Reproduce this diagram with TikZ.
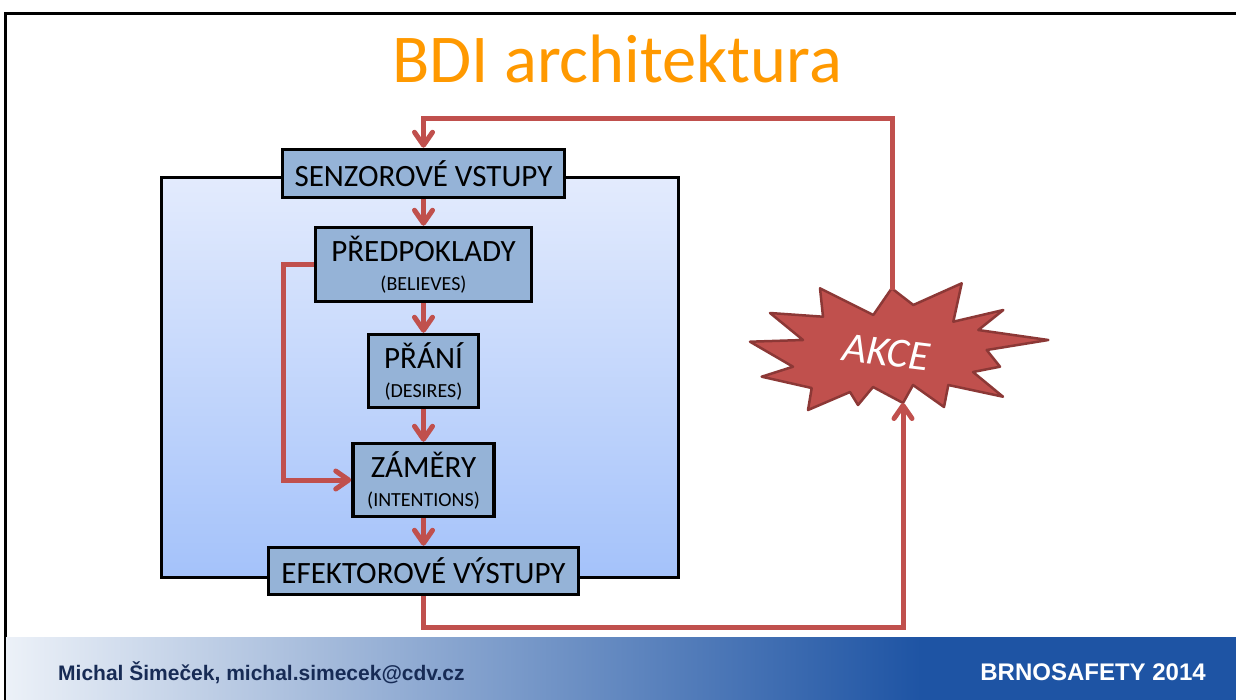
\documentclass[tikz,border=0pt]{standalone}
\usepackage{fontspec}
\setmainfont{Carlito}
\newfontfamily\footfont{Liberation Sans}
\usepackage{xcolor}
\usepackage{tikz}
\usetikzlibrary{arrows.meta,positioning,calc}
\definecolor{titleorange}{RGB}{255,153,0}
\definecolor{stagefill}{RGB}{149,179,215}
\definecolor{flowred}{RGB}{192,80,77}
\definecolor{burstedge}{RGB}{140,56,54}
\definecolor{coretop}{RGB}{227,235,253}
\definecolor{corebottom}{RGB}{164,194,250}
\definecolor{footlight}{RGB}{236,241,248}
\definecolor{footdark}{RGB}{30,84,164}
\definecolor{footnavy}{RGB}{23,43,85}
\tikzset{
  stage/.style={draw=black, line width=3.5pt, fill=stagefill, inner sep=0pt,
    align=center, font=\fontsize{31}{29}\selectfont},
  flow/.style={draw=flowred, line width=5pt,
    -{Straight Barb[length=13pt,width=18pt,round]}},
}
\newcommand{\subtext}[1]{{\fontsize{20}{29}\selectfont #1}}

\begin{document}
\begin{tikzpicture}[x=1pt,y=-1pt]
            \useasboundingbox (0,0) rectangle (1236,699);

            % Slide frame and footer
            \draw[line width=3pt] (5,700) -- (5,13) -- (1237,13);
            \shade[left color=footlight, right color=footdark] (6,637) rectangle (921,700);
            \fill[footdark] (920,637) rectangle (1237,700);
            \node[anchor=base west, inner sep=0pt, text=footnavy,
                font=\footfont\fontsize{21}{24}\selectfont\bfseries] (author) at (58,680)
                {Michal Šimeček, michal.simecek@cdv.cz};
            \node[anchor=base east, inner sep=0pt, text=white,
                font=\footfont\fontsize{24}{26}\selectfont\bfseries] (event) at (1206,680)
                {BRNOSAFETY 2014};

            % Title
            \node[anchor=base, text=titleorange, font=\fontsize{68.5}{70}\selectfont] (title)
                at (617,82) {BDI architektura};

            % Agent
            \draw[line width=3pt, top color=coretop, bottom color=corebottom]
                (161,177) rectangle (678,577);
            \node[stage, minimum width=282pt, minimum height=48pt] (senzor)
                at (423.5,173.5) {SENZOROVÉ VSTUPY};
            \node[stage, minimum width=216pt, minimum height=74pt] (predpoklady)
                at (423.5,264.5) {PŘEDPOKLADY\\\subtext{(BELIEVES)}};
            \node[stage, minimum width=110pt, minimum height=73pt] (prani)
                at (423.5,371) {PŘÁNÍ\\\subtext{(DESIRES)}};
            \node[stage, minimum width=141pt, minimum height=73pt] (zamery)
                at (423.5,480) {ZÁMĚRY\\\subtext{(INTENTIONS)}};
            \node[stage, minimum width=310pt, minimum height=47pt] (efektor)
                at (423.5,571) {EFEKTOROVÉ VÝSTUPY};

            % Action burst
            \filldraw[fill=flowred, draw=burstedge, line width=2.5pt, line join=round]
                (891.7,288.3) -- (913.3,305) -- (961.7,283.3) -- (953.3,321.7)
                -- (1003.3,310) -- (978.3,330) -- (1048.3,340) -- (986.7,350)
                -- (1000,366.7) -- (973,372) -- (1003,396.7) -- (948.3,385)
                -- (944,407) -- (913,385) -- (903,403) -- (873,387)
                -- (858,405) -- (850,392) -- (808,410) -- (811.7,388)
                -- (761.7,376.7) -- (793,366.7) -- (750,341.7) -- (803,340)
                -- (770,313) -- (823,316.7) -- (820,288.3) -- (873.3,315) -- cycle;
            \coordinate (akcetop) at (892,290);
            \coordinate (akcebot) at (903,403);
            \node[text=white, rotate=-7, inner sep=0pt,
                font=\itshape\fontsize{42}{44}\selectfont] (akce)
                at (886,352) {AKCE};

            % Flow
            \foreach \a/\b in {senzor/predpoklady, predpoklady/prani, prani/zamery, zamery/efektor}
                \draw[flow] (\a) -- (\b);
            \draw[flow] (predpoklady.west) -- ++(-30,0) |- (zamery.west);
            \draw[flow] (efektor.south) -- ++(0,31) -| (akcebot);
            \draw[flow] (akcetop) -- ++(0,-172) -| (senzor.north);
        \end{tikzpicture}
\end{document}
